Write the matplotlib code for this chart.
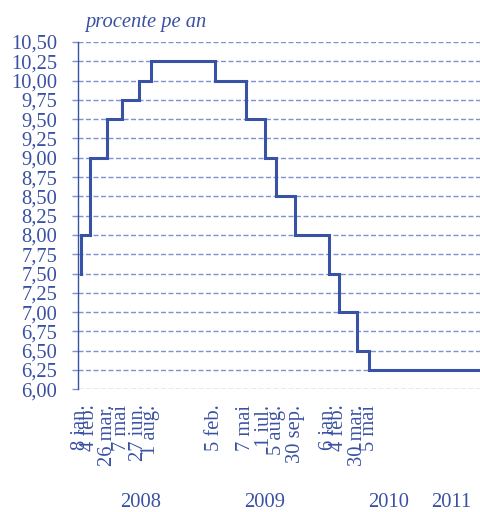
import matplotlib
matplotlib.use("Agg")
import matplotlib.pyplot as plt
import matplotlib.dates as mdates
import matplotlib.transforms as mtransforms
from datetime import datetime

# ---- data ----
start_rate = 7.50
change_dates = ["2008-01-08", "2008-02-04", "2008-03-26", "2008-05-07", "2008-06-27",
                "2008-08-01", "2009-02-05", "2009-05-07", "2009-07-01", "2009-08-05",
                "2009-09-30", "2010-01-06", "2010-02-04", "2010-03-30", "2010-05-05"]
new_rates = [8.00, 9.00, 9.50, 9.75, 10.00, 10.25, 10.00, 9.50, 9.00, 8.50,
             8.00, 7.50, 7.00, 6.50, 6.25]
date_labels = ["8 ian.", "4 feb.", "26 mar.", "7 mai", "27 iun.", "1 aug.",
               "5 feb.", "7 mai", "1 iul.", "5 aug.", "30 sep.",
               "6 ian.", "4 feb.", "30 mar.", "5 mai"]
years = ["2008", "2009", "2010", "2011"]
year_pos = ["2008-07-01", "2009-07-01", "2010-07-01", "2011-01-01"]
y_ticks = [6.00 + 0.25 * i for i in range(19)]
x_start, x_end = "2008-01-01", "2011-03-26"
ylabel_text = "procente pe an"

# ---- style ----
plt.rcParams['font.family'] = ['Liberation Serif', 'DejaVu Serif']
plt.rcParams['lines.scale_dashes'] = False
TXT = '#3a51a3'
LINE = '#3853a6'
GRID = '#7f92cc'
FS = 14.8

to_dt = lambda s: datetime.strptime(s, "%Y-%m-%d")
cd = [to_dt(d) for d in change_dates]
xs = [cd[0]] + cd + [to_dt(x_end)]
ys = [start_rate] + new_rates + [new_rates[-1]]

fig = plt.figure(figsize=(4.8, 5.12), dpi=100)
ax = fig.add_axes([78.3 / 480, (512 - 389.3) / 512, 1 - 78.3 / 480, (389.3 - 42) / 512])

ax.step(xs, ys, where='post', color=LINE, lw=2.2, zorder=3, solid_joinstyle='miter')

ax.set_xlim(to_dt(x_start), to_dt(x_end))
ax.set_ylim(6.0, 10.5)
ax.set_yticks(y_ticks)
ax.set_yticklabels([f"{v:.2f}".replace('.', ',') for v in y_ticks], fontsize=FS, color=TXT)
ax.yaxis.grid(True, color=GRID, lw=1.0, linestyle=(0, (3.6, 1.8)), zorder=1)
ax.set_axisbelow(True)
ax.tick_params(axis='y', length=4.3, width=1.0, color=GRID, pad=11.0)

ax.set_xticks(cd)
ax.set_xticklabels(date_labels, rotation=90, fontsize=FS, color=TXT, ha='center', va='top')
ax.tick_params(axis='x', length=0, pad=11.0)

for s in ['top', 'right', 'bottom']:
    ax.spines[s].set_visible(False)
ax.spines['left'].set_color(LINE)
ax.spines['left'].set_linewidth(1.0)

trans = mtransforms.blended_transform_factory(ax.transData, fig.transFigure)
for lab, pos in zip(years, year_pos):
    xd = mdates.date2num(to_dt(pos))
    ax.text(xd, 5.0 / 512, lab, transform=trans, fontsize=FS, color=TXT,
            ha='center', va='baseline')

fig.text(85 / 480, 1 - 26.7 / 512, ylabel_text, fontsize=FS, color=TXT, style='italic',
         ha='left', va='baseline')

fig.savefig("out.png", dpi=100)
